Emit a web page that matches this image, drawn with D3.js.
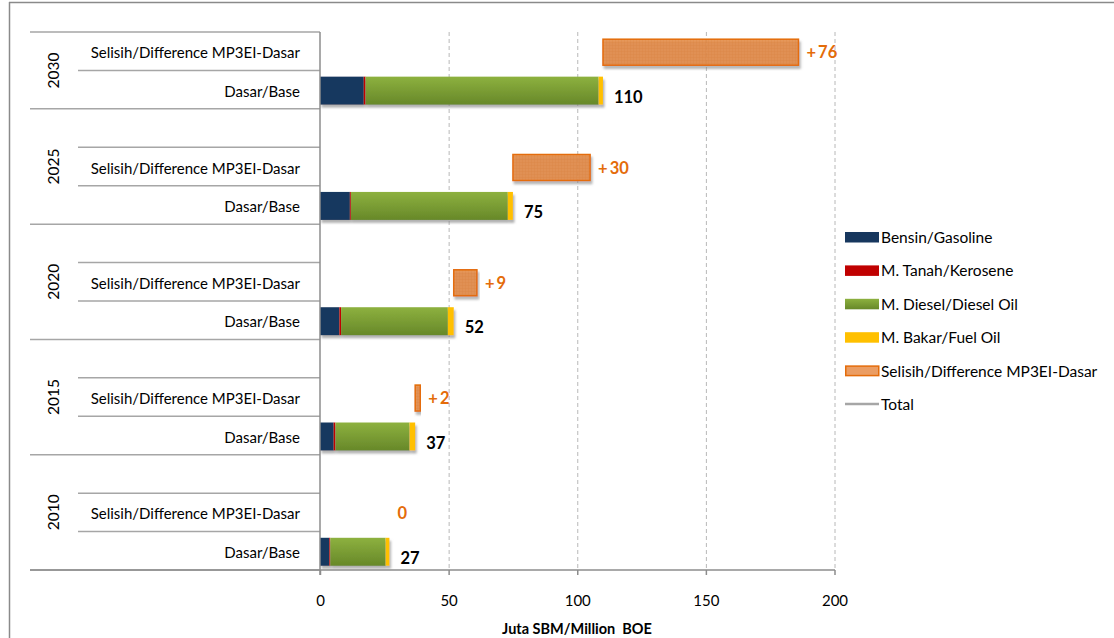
<!DOCTYPE html>
<html>
<head>
<meta charset="utf-8">
<script src="https://cdn.jsdelivr.net/npm/d3@7"></script>
<style>
  html, body { margin: 0; padding: 0; background: #fff; }
  svg { display: block; font-family: Lato, "Noto Sans", sans-serif; }
  text { white-space: pre; }
</style>
</head>
<body>
<svg id="chart" width="1114" height="638"></svg>
<script>
// Fuel demand by year, base scenario stacked by fuel, plus MP3EI extra demand
const years      = ["2030", "2025", "2020", "2015", "2010"];
const gasoline   = [17.0, 11.6, 7.5, 5.3, 3.6];
const kerosene   = [0.7, 0.4, 0.7, 0.7, 0.4];
const dieselOil  = [90.6, 61.0, 41.5, 28.8, 21.5];
const fuelOil    = [1.7, 2.0, 2.3, 2.2, 1.5];
const difference = [76, 30, 9, 2, 0];

const rowSelisih = "Selisih/Difference MP3EI-Dasar";
const rowDasar   = "Dasar/Base";
const xTicks     = [0, 50, 100, 150, 200];
const axisTitle  = "Juta SBM/Million  BOE";

const seriesNames = ["Bensin/Gasoline", "M. Tanah/Kerosene", "M. Diesel/Diesel Oil",
                     "M. Bakar/Fuel Oil", "Selisih/Difference MP3EI-Dasar", "Total"];
const fuelKeys = ["gasoline", "kerosene", "diesel", "fuel"];

// Per-year records
const records = years.map((y, i) => {
  const r = { year: y, gasoline: gasoline[i], kerosene: kerosene[i],
              diesel: dieselOil[i], fuel: fuelOil[i], diff: difference[i] };
  r.total = r.gasoline + r.kerosene + r.diesel + r.fuel;
  return r;
});

// Category rows, top to bottom: groups after the first start with a blank spacer row
const rows = [];
years.forEach((y, i) => {
  if (i > 0) rows.push({ id: y + "-gap", year: y, kind: "gap" });
  rows.push({ id: y + "-sel", year: y, kind: "sel" });
  rows.push({ id: y + "-base", year: y, kind: "base" });
});

const svg = d3.select("#chart");
const plotTop = 32, plotBottom = 570, axisX0 = 320;

const x = d3.scaleLinear().domain([0, 200]).range([axisX0, 834.5]);
const y = d3.scaleBand().domain(rows.map(r => r.id)).range([plotTop, plotBottom]).padding(0);
const mid = id => y(id) + y.bandwidth() / 2;

// defs: diesel gradient, bar shadow, difference fill texture
const defs = svg.append("defs");
const grad = defs.append("linearGradient").attr("id", "dieselGrad")
  .attr("x1", 0).attr("y1", 0).attr("x2", 0).attr("y2", 1);
grad.append("stop").attr("offset", "0%").attr("stop-color", "#8DB13F");
grad.append("stop").attr("offset", "100%").attr("stop-color", "#678829");

const shadow = defs.append("filter").attr("id", "shadow")
  .attr("x", "-5%").attr("y", "-20%").attr("width", "115%").attr("height", "160%");
shadow.append("feDropShadow").attr("dx", 1.5).attr("dy", 3).attr("stdDeviation", 1.2)
  .attr("flood-color", "#7f7f7f").attr("flood-opacity", 0.6);

const pat = defs.append("pattern").attr("id", "diffPat")
  .attr("width", 3).attr("height", 3).attr("patternUnits", "userSpaceOnUse");
pat.append("rect").attr("width", 3).attr("height", 3).attr("fill", "#E4883F").attr("fill-opacity", 0.85);
pat.append("path").attr("d", "M0,0.5H3M0.5,0V3").attr("stroke", "#D9762E")
  .attr("stroke-width", 0.5).attr("stroke-opacity", 0.3);

const fuelColor = { gasoline: "#17375E", kerosene: "#C00000", diesel: "url(#dieselGrad)", fuel: "#FFC000" };

// Chart frame (top and left edges)
svg.append("line").attr("x1", 9).attr("x2", 1114).attr("y1", 2.5).attr("y2", 2.5)
  .attr("stroke", "#8a8a8a").attr("stroke-width", 1.5);
svg.append("line").attr("x1", 9.5).attr("x2", 9.5).attr("y1", 2).attr("y2", 638)
  .attr("stroke", "#8a8a8a").attr("stroke-width", 1.5);

// Vertical dashed gridlines
svg.append("g").selectAll("line").data(xTicks.filter(t => t > 0)).join("line")
  .attr("x1", d => x(d) + 0.5).attr("x2", d => x(d) + 0.5)
  .attr("y1", plotTop).attr("y2", plotBottom)
  .attr("stroke", "#b8b8b8").attr("stroke-width", 1).attr("stroke-dasharray", "4,3");

// Category separators: long lines between years, short lines within a year
const bounds = [];
rows.forEach((r, i) => {
  const outer = i === 0 || r.kind === "gap";
  bounds.push({ yv: y(r.id), outer });
});
bounds.push({ yv: plotBottom, outer: true });
svg.append("g").selectAll("line").data(bounds).join("line")
  .attr("x1", d => d.outer ? 30 : 78).attr("x2", axisX0)
  .attr("y1", d => d.yv).attr("y2", d => d.yv)
  .attr("stroke", "#a6a6a6").attr("stroke-width", 1.5);

// Year labels (rotated)
svg.append("g").selectAll("text").data(years).join("text")
  .attr("transform", (d, i) => {
    const ids = rows.filter(r => r.year === d).map(r => r.id);
    const top = y(ids[0]), bot = y(ids[ids.length - 1]) + y.bandwidth();
    return `translate(53,${(top + bot) / 2}) rotate(-90)`;
  })
  .attr("text-anchor", "middle").attr("dominant-baseline", "central")
  .attr("font-size", 15.5).attr("fill", "#000").text(d => d);

// Row labels
svg.append("g").selectAll("text").data(rows.filter(r => r.kind !== "gap")).join("text")
  .attr("x", 300).attr("y", d => mid(d.id) + 1)
  .attr("text-anchor", "end").attr("dominant-baseline", "central")
  .attr("font-size", 15).attr("fill", "#000")
  .text(d => d.kind === "sel" ? rowSelisih : rowDasar);

// Stacked base bars
const barH = 28;
const stacked = d3.stack().keys(fuelKeys)(records);
const barLayer = svg.append("g");
records.forEach((rec, i) => {
  const g = barLayer.append("g").attr("filter", "url(#shadow)");
  stacked.forEach(s => {
    const seg = s[i];
    g.append("rect")
      .attr("x", x(seg[0])).attr("width", Math.max(0, x(seg[1]) - x(seg[0])))
      .attr("y", mid(rec.year + "-base") + 1 - barH / 2).attr("height", barH)
      .attr("fill", fuelColor[s.key]);
  });
});

// Difference bars, floating after the base total
svg.append("g").selectAll("rect").data(records.filter(r => r.diff > 0)).join("rect")
  .attr("x", d => x(d.total)).attr("width", d => x(d.total + d.diff) - x(d.total))
  .attr("y", d => mid(d.year + "-sel") + 1 - 13).attr("height", 26)
  .attr("fill", "url(#diffPat)").attr("stroke", "#E46C0A").attr("stroke-width", 1.5)
  .attr("filter", "url(#shadow)");

// Total labels
svg.append("g").selectAll("text").data(records).join("text")
  .attr("x", d => x(d.total) + 11).attr("y", d => mid(d.year + "-base") + 7)
  .attr("dominant-baseline", "central")
  .attr("font-size", 16.5).attr("font-weight", "bold").attr("fill", "#000")
  .text(d => d3.format(".0f")(d.total));

// Difference labels
svg.append("g").selectAll("text").data(records).join("text")
  .attr("x", d => x(d.total + d.diff) + 8).attr("y", d => mid(d.year + "-sel") + 1)
  .attr("dominant-baseline", "central")
  .attr("font-size", 16.5).attr("font-weight", "bold").attr("fill", "#E46C0A")
  .text(d => d.diff > 0 ? "+\u2009" + d.diff : String(d.diff));

// Value axis
const xAxis = svg.append("g").attr("transform", `translate(0,${plotBottom})`)
  .call(d3.axisBottom(x).tickValues(xTicks).tickSize(5).tickSizeOuter(0).tickFormat(d3.format("d")));
xAxis.select(".domain").remove();
xAxis.selectAll(".tick line").attr("stroke", "#8c8c8c").attr("stroke-width", 1.5);
xAxis.selectAll(".tick text").attr("y", 30).attr("dy", null)
  .attr("dominant-baseline", "central").attr("font-size", 15)
  .attr("font-family", "Lato, sans-serif").attr("fill", "#000");
svg.append("line").attr("x1", 30).attr("x2", x(200) + 0.5).attr("y1", plotBottom).attr("y2", plotBottom)
  .attr("stroke", "#8c8c8c").attr("stroke-width", 1.5);
svg.append("line").attr("x1", axisX0).attr("x2", axisX0).attr("y1", plotTop).attr("y2", plotBottom + 5)
  .attr("stroke", "#8c8c8c").attr("stroke-width", 1.5);

svg.append("text").attr("x", 577).attr("y", 628)
  .attr("text-anchor", "middle").attr("dominant-baseline", "central")
  .attr("font-size", 14.5).attr("font-weight", "bold").attr("fill", "#000")
  .text(axisTitle);

// Legend
const legend = svg.append("g").attr("transform", "translate(845,237)");
const item = legend.selectAll("g").data(seriesNames).join("g")
  .attr("transform", (d, i) => `translate(0,${i * 33.4})`);
item.each(function (d, i) {
  const g = d3.select(this);
  if (i === 5) {
    g.append("line").attr("x1", 0).attr("x2", 34).attr("y1", 0).attr("y2", 0)
      .attr("stroke", "#a6a6a6").attr("stroke-width", 2.5);
  } else if (i === 4) {
    g.append("rect").attr("x", 0.75).attr("y", -4.5).attr("width", 33).attr("height", 9.5)
      .attr("fill", "#EB9D63").attr("stroke", "#E46C0A").attr("stroke-width", 1.5);
  } else {
    g.append("rect").attr("x", 0).attr("y", -5).attr("width", 34).attr("height", 10.5)
      .attr("fill", fuelColor[fuelKeys[i]]);
  }
  g.append("text").attr("x", 36).attr("y", 0).attr("dominant-baseline", "central")
    .attr("font-size", 15.5).attr("fill", "#000").text(d);
});
</script>
</body>
</html>
